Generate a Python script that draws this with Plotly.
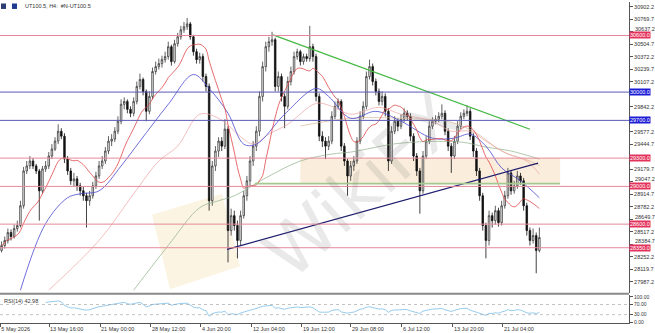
import plotly.graph_objects as go
import pandas as pd

# ---------------- data ----------------
chart_title = "UT100.5, H4:  #N-UT100.5"
first_open = 28321

close = [28374, 28427, 28511, 28469, 28553, 28585, 28795, 29164, 29217, 29269,
         29217, 29164, 28953, 29185, 29217, 29322, 29396, 29480, 29585, 29533,
         29290, 29164, 29059, 29080, 29006, 28953, 28901, 28848, 28901, 29006,
         29111, 29217, 29269, 29375, 29480, 29501, 29585, 29691, 29870, 29901,
         29817, 29775, 29901, 30060, 30133, 30007, 29796, 29954, 30218, 30270,
         30302, 30344, 30376, 30481, 30323, 30513, 30586, 30660, 30692, 30723,
         30586, 30428, 30344, 30376, 30165, 30060, 28848, 29217, 29375, 29480,
         29427, 29607, 28532, 28690, 28585, 28427, 28690, 28901, 29059, 29269,
         29427, 29585, 29954, 30270, 30481, 30534, 30555, 30060, 30165, 29954,
         29849, 30112, 30218, 30376, 30428, 30323, 30376, 30355, 30481, 30376,
         29954, 29533, 29480, 29427, 29480, 29743, 29849, 29901, 29427, 29269,
         29111, 29217, 29269, 29480, 29743, 29849, 30165, 30270, 30112, 30007,
         29901, 29954, 29796, 29269, 29585, 29691, 29638, 29712, 29775, 29743,
         29533, 29322, 29164, 28953, 29322, 29480, 29638, 29691, 29712, 29743,
         29775, 29585, 29427, 29322, 29480, 29638, 29743, 29775, 29796, 29533,
         29375, 29164, 28901, 28585, 28427, 28690, 28637, 28743, 28616, 28795,
         28901, 29143, 28953, 29006, 29111, 29059, 28795, 28532, 28427, 28479,
         28321, 28458]

high = [28416, 28469, 28553, 28543, 28595, 28637, 28848, 29206, 29269, 29322,
        29301, 29238, 29185, 29217, 29269, 29364, 29448, 29522, 29659, 29617,
        29564, 29322, 29196, 29143, 29111, 29038, 28996, 28932, 28953, 29048,
        29154, 29269, 29322, 29417, 29533, 29554, 29628, 29743, 29923, 29944,
        29923, 29849, 29944, 30112, 30196, 30154, 30028, 30007, 30260, 30323,
        30355, 30386, 30428, 30534, 30502, 30555, 30628, 30702, 30744, 30786,
        30744, 30607, 30460, 30418, 30407, 30196, 30091, 29269, 29427, 29522,
        29522, 29712, 29638, 28764, 28743, 28637, 28743, 28953, 29111, 29322,
        29480, 29638, 30007, 30323, 30534, 30586, 30639, 30576, 30218, 30196,
        29986, 30165, 30270, 30428, 30460, 30449, 30407, 30407, 30702, 30513,
        30407, 29986, 29585, 29522, 29533, 29796, 29901, 29933, 29923, 29459,
        29290, 29269, 29322, 29522, 29796, 29901, 30218, 30344, 30302, 30144,
        30038, 30007, 29986, 29828, 29638, 29743, 29722, 29765, 29828, 29807,
        29775, 29564, 29354, 29196, 29375, 29533, 29691, 29733, 29754, 29786,
        29870, 29807, 29617, 29459, 29533, 29691, 29786, 29817, 29859, 29828,
        29564, 29406, 29196, 28932, 28616, 28743, 28722, 28795, 28774, 28848,
        28953, 29196, 29164, 29059, 29164, 29143, 29090, 28827, 28564, 28553,
        28511, 28564]

low = [28300, 28342, 28395, 28427, 28448, 28521, 28564, 28764, 29132, 29185,
       29185, 29132, 28637, 28922, 29154, 29185, 29290, 29375, 29448, 29501,
       29248, 29122, 29017, 28996, 28953, 28901, 28848, 28564, 28795, 28869,
       28975, 29080, 29185, 29238, 29343, 29427, 29470, 29554, 29659, 29817,
       29775, 29733, 29743, 29870, 30028, 29965, 29691, 29765, 29923, 30186,
       30239, 30260, 30312, 30344, 30281, 30302, 30481, 30555, 30628, 30660,
       30555, 30386, 30302, 30302, 30112, 30007, 28743, 28795, 29164, 29312,
       29375, 29396, 28195, 28479, 28532, 28237, 28374, 28658, 28848, 29006,
       29217, 29375, 29533, 29901, 30218, 30428, 30491, 30007, 30007, 29901,
       29617, 29817, 30070, 30186, 30344, 30281, 30291, 30323, 30323, 30323,
       29901, 29480, 29417, 29290, 29385, 29448, 29712, 29817, 29375, 29217,
       28901, 29059, 29164, 29238, 29448, 29712, 29817, 30133, 30070, 29965,
       29859, 29859, 29743, 29164, 29238, 29554, 29585, 29607, 29680, 29701,
       29480, 29269, 29111, 28711, 28922, 29290, 29448, 29607, 29659, 29680,
       29712, 29543, 29375, 29143, 29290, 29448, 29607, 29712, 29743, 29491,
       29312, 29111, 28848, 28532, 28237, 28374, 28564, 28595, 28574, 28585,
       28764, 28869, 28911, 28922, 28975, 29017, 28743, 28479, 28374, 28395,
       28079, 28300]

# moving averages (bar index, price)
blue_ma_bar = [6, 14, 21, 25, 31, 38, 44, 53, 61, 66, 72, 77, 81, 90, 100, 104,
               111, 119, 127, 137, 144, 149, 154, 159, 165, 171]
blue_ma_val = [27900, 28606, 28880, 28922, 28953, 29217, 29480, 29870, 30186, 30038,
               29775, 29448, 29448, 29765, 30038, 29954, 29722, 29796, 29691, 29512,
               29512, 29554, 29427, 29196, 29059, 28880]
pink_ma_bar = [15, 31, 42, 50, 56, 63, 69, 77, 80, 85, 91, 100, 105, 111, 120,
               127, 137, 143, 149, 154, 161, 167, 171]
pink_ma_val = [27900, 28427, 28922, 29269, 29427, 29765, 29722, 29501, 29448, 29554,
               29659, 29880, 29849, 29765, 29838, 29765, 29691, 29585, 29585, 29480,
               29343, 29269, 29132]
green_ma_bar = [42, 53, 63, 69, 74, 84, 95, 105, 111, 127, 146, 154, 162, 171]
green_ma_val = [27900, 28374, 28774, 28848, 28901, 29090, 29269, 29343, 29364, 29459,
                29470, 29417, 29375, 29290]
tan_ma_bar = [95, 111, 127, 143, 151, 159, 168, 171]
tan_ma_val = [29640, 29722, 29722, 29680, 29565, 29375, 29269, 29220]

red_levels = [30600.0, 29300.0, 29000.0, 28600.0, 28350.0]
blue_levels = [30000.0, 29700.0]
zone_bars = [95, 177.6]
zone_prices = [29030, 29300]
green_level = 29030
green_level_bars = [80.5, 177.6]
resistance_bars = [86.3, 168.0]
resistance_prices = [30607, 29606]
support_bars = [71.7, 170.6]
support_prices = [28332, 29248]

x_tick_bars = [-0.4, 15.1, 31.3, 47.5, 63.4, 79.6, 95.5, 111.1, 127.3, 143.5, 159.4]
x_tick_text = ["5 May 2026", "13 May 16:00", "21 May 00:00", "28 May 12:00",
               "4 Jun 20:00", "12 Jun 04:00", "19 Jun 12:00", "29 Jun 08:00",
               "6 Jul 12:00", "13 Jul 20:00", "21 Jul 04:00"]
y_tick_vals = [30902.2, 30769.7, 30637.2, 30504.7, 30372.2, 30239.7, 30107.2,
               29974.7, 29842.2, 29709.7, 29577.2, 29444.7, 29312.2, 29179.7,
               29047.2, 28914.7, 28782.2, 28649.7, 28517.2, 28384.7, 28252.2,
               28119.7, 27987.2]
# tick labels hidden behind the coloured level labels in the reference
y_ticks_hidden = [29974.7, 29709.7, 29312.2]
# tick labels only partly visible just above a level label (value, shift in px)
y_ticks_raised = {30637.2: 3, 29047.2: 2.5, 28649.7: 2.5, 28384.7: 3.5}
rsi_tick_vals = [0, 30, 70, 100]
rsi_tick_text = ["0.00", "30.00", "70.00", "100.00"]
rsi_label = "RSI(14) 42.98"
watermark = "WikiFX"

# ---------------- derived series ----------------
bars = list(range(len(close)))
open_ = [first_open] + close[:-1]
cs = pd.Series(close, dtype=float)
red_ma = cs.rolling(12, min_periods=1).mean()
delta = cs.diff()
gain = delta.clip(lower=0).ewm(alpha=1 / 14, adjust=False).mean()
loss = (-delta.clip(upper=0)).ewm(alpha=1 / 14, adjust=False).mean()
rsi = 100 - 100 / (1 + gain / loss)
rsi[:14] = None

FONT = "Liberation Sans"
W_PLOT = 629.0
H_PLOT = 323.0

fig = go.Figure()

fig.add_shape(type="rect", xref="x", yref="y", x0=zone_bars[0], x1=zone_bars[1],
              y0=zone_prices[0], y1=zone_prices[1], fillcolor="rgba(245,215,175,0.45)",
              line_width=0, layer="below")


def px(xp, yp):
    return xp / W_PLOT, 1 - yp / H_PLOT


pts = [px(152, 214), px(222, 193), px(240, 266), px(170, 289)]
path = "M " + " L ".join(f"{a:.4f},{b:.4f}" for a, b in pts) + " Z"
fig.add_shape(type="path", xref="paper", yref="paper", path=path,
              fillcolor="rgba(245,222,165,0.32)", line_width=0, layer="below")

for lv in red_levels:
    fig.add_shape(type="line", xref="x domain", yref="y", x0=0, x1=1, y0=lv, y1=lv,
                  line=dict(color="#e6899a", width=1))
for lv in blue_levels:
    fig.add_shape(type="line", xref="x domain", yref="y", x0=0, x1=1, y0=lv, y1=lv,
                  line=dict(color="#5a5ab8", width=1))
fig.add_shape(type="line", xref="x", yref="y", x0=green_level_bars[0], x1=green_level_bars[1],
              y0=green_level, y1=green_level, line=dict(color="#a3c98f", width=1.6))

fig.add_trace(go.Scatter(x=green_ma_bar, y=green_ma_val, mode="lines", line=dict(color="#8fb08a", width=0.7, shape="spline"), hoverinfo="skip"))
fig.add_trace(go.Scatter(x=tan_ma_bar, y=tan_ma_val, mode="lines", line=dict(color="#d8b898", width=0.7, shape="spline"), hoverinfo="skip"))
fig.add_trace(go.Scatter(x=pink_ma_bar, y=pink_ma_val, mode="lines", line=dict(color="#eea3a3", width=0.7, shape="spline"), hoverinfo="skip"))
fig.add_trace(go.Scatter(x=blue_ma_bar, y=blue_ma_val, mode="lines", line=dict(color="#4a4ad0", width=0.8, shape="spline"), hoverinfo="skip"))
fig.add_trace(go.Scatter(x=bars, y=red_ma, mode="lines", line=dict(color="#e04848", width=0.8, shape="spline"), hoverinfo="skip"))

fig.add_trace(go.Candlestick(x=bars, open=open_, high=high, low=low, close=close,
                             increasing=dict(line=dict(color="#3a3a3a", width=0.8), fillcolor="#ffffff"),
                             decreasing=dict(line=dict(color="#111111", width=0.8), fillcolor="#111111"),
                             whiskerwidth=0, showlegend=False, hoverinfo="skip"))

fig.add_trace(go.Scatter(x=resistance_bars, y=resistance_prices, mode="lines", line=dict(color="#45b845", width=1.2), hoverinfo="skip"))
fig.add_trace(go.Scatter(x=support_bars, y=support_prices, mode="lines", line=dict(color="#1c1c6e", width=1.3), hoverinfo="skip"))

fig.add_trace(go.Scatter(x=bars, y=rsi, mode="lines", line=dict(color="#6ab4e2", width=0.7), xaxis="x2", yaxis="y2", hoverinfo="skip"))
for lv in [70, 30]:
    fig.add_shape(type="line", xref="x2 domain", yref="y2", x0=0, x1=1, y0=lv, y1=lv,
                  line=dict(color="#9a9a9a", width=0.6, dash="dot"))

sep_y = 1 - 293.5 / H_PLOT
fig.add_shape(type="line", xref="paper", yref="paper", x0=0, x1=1, y0=sep_y, y1=sep_y,
              line=dict(color="#8a8a8a", width=2))

ann = []
for v, shift in y_ticks_raised.items():
    ann.append(dict(x=1, xref="paper", y=v, yref="y", text=f"{v:.1f}", showarrow=False,
                    xanchor="left", yanchor="middle", xshift=4, yshift=shift,
                    font=dict(family=FONT, size=5.5, color="#333")))
for lv in red_levels:
    ann.append(dict(x=1, xref="paper", y=lv, yref="y", text=f"{lv:.1f}", showarrow=False,
                    xanchor="left", yanchor="middle", bgcolor="#e3335c", borderpad=0,
                    font=dict(family=FONT, size=5.5, color="white")))
for lv in blue_levels:
    ann.append(dict(x=1, xref="paper", y=lv, yref="y", text=f"{lv:.1f}", showarrow=False,
                    xanchor="left", yanchor="middle", bgcolor="#1c1cd6", borderpad=0,
                    font=dict(family=FONT, size=5.5, color="white")))
ann.append(dict(x=23 / W_PLOT, xref="paper", y=1 - 4 / H_PLOT, yref="paper", text=chart_title,
                showarrow=False, xanchor="left", yanchor="middle",
                font=dict(family=FONT, size=5.5, color="#333333")))
ann.append(dict(x=2 / W_PLOT, xref="paper", y=1 - 296 / H_PLOT, yref="paper", text=rsi_label,
                showarrow=False, xanchor="left", yanchor="top",
                font=dict(family=FONT, size=5.5, color="#333333")))
ann.append(dict(x=362 / W_PLOT, xref="paper", y=1 - 185 / H_PLOT, yref="paper", text=watermark,
                showarrow=False, textangle=-42,
                font=dict(family="DejaVu Sans", size=70, color="rgba(120,120,120,0.16)")))

for x0, col in [(1, "#2c3e73"), (12, "#1f3b8f")]:
    fig.add_shape(type="rect", xref="paper", yref="paper", x0=x0 / W_PLOT, x1=(x0 + 5) / W_PLOT,
                  y0=1 - 7 / H_PLOT, y1=1 - 1.5 / H_PLOT, fillcolor=col, line_width=0)

y_tick_text = ["" if (v in y_ticks_hidden or v in y_ticks_raised) else f"{v:.1f}" for v in y_tick_vals]

fig.update_layout(
    width=655, height=333,
    margin=dict(l=0, r=26, t=0, b=10),
    paper_bgcolor="white", plot_bgcolor="white",
    showlegend=False,
    annotations=ann,
    xaxis=dict(domain=[0, 1], range=[-0.5, 199.5], anchor="y", showticklabels=False,
               showgrid=False, zeroline=False, rangeslider=dict(visible=False), ticks=""),
    yaxis=dict(domain=[30 / H_PLOT, 1], range=[27868, 30955], side="right",
               tickvals=y_tick_vals, ticktext=y_tick_text,
               ticks="outside", ticklen=3, tickcolor="#555", showgrid=False, zeroline=False,
               showline=True, linecolor="#555", linewidth=1,
               tickfont=dict(family=FONT, size=5.5, color="#333")),
    xaxis2=dict(domain=[0, 1], anchor="y2", matches="x", range=[-0.5, 199.5],
                tickvals=x_tick_bars, ticktext=x_tick_text, ticks="outside", ticklen=3,
                tickcolor="#555", ticklabelposition="outside right", showgrid=False,
                zeroline=False, showline=True, linecolor="#555", linewidth=1,
                tickfont=dict(family=FONT, size=5.5, color="#333")),
    yaxis2=dict(domain=[0, 28 / H_PLOT], range=[-2.7, 106.6], side="right", anchor="x2",
                tickvals=rsi_tick_vals, ticktext=rsi_tick_text, ticks="outside", ticklen=3,
                tickcolor="#555", showgrid=False, zeroline=False, showline=True,
                linecolor="#555", linewidth=1,
                tickfont=dict(family=FONT, size=5, color="#333")),
)

fig.write_html("out.html")
